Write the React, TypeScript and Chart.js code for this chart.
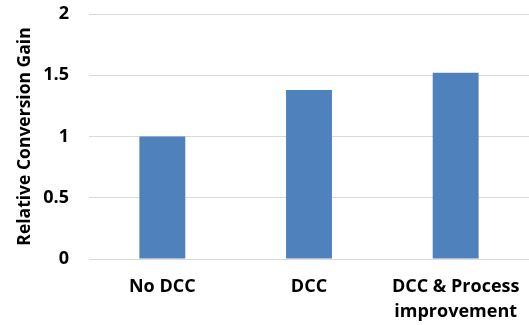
import React, { useEffect, useRef } from "react";
import { Chart, registerables } from "chart.js";

Chart.register(...registerables);

const categories: (string | string[])[] = ["No DCC", "DCC", ["DCC & Process", "improvement"]];
const gainValues: number[] = [1.0, 1.38, 1.52];
const yTicks: number[] = [0, 0.5, 1, 1.5, 2];
const yTitle = "Relative Conversion Gain";

const FONT = "'Open Sans', 'Noto Sans', sans-serif";

export default function App() {
  const ref = useRef<HTMLCanvasElement>(null);
  useEffect(() => {
    if (!ref.current) return;
    const chart = new Chart(ref.current, {
      type: "bar",
      data: {
        labels: categories,
        datasets: [
          {
            data: gainValues,
            backgroundColor: "#4f81bd",
            borderWidth: 0,
            barPercentage: 0.313,
            categoryPercentage: 1,
          },
        ],
      },
      options: {
        animation: false,
        responsive: false,
        maintainAspectRatio: false,
        layout: { padding: { top: 14, right: 0, left: 0, bottom: 0 } },
        plugins: { legend: { display: false }, tooltip: { enabled: false } },
        scales: {
          x: {
            grid: { display: false, drawTicks: false },
            border: { display: true, color: "#d9d9d9", width: 1 },
            ticks: {
              color: "#000",
              font: { family: FONT, size: 18, weight: "bold", lineHeight: 1.39 },
              padding: 15,
              maxRotation: 0,
              autoSkip: false,
            },
            afterFit: (s: any) => {
              s.height = 66;
              s.paddingLeft = 0;
              s.paddingRight = 0;
              s.paddingTop = 0;
              s.paddingBottom = 0;
            },
          },
          y: {
            min: yTicks[0],
            max: yTicks[yTicks.length - 1],
            afterBuildTicks: (s: any) => {
              s.ticks = yTicks.map((v) => ({ value: v }));
            },
            ticks: {
              color: "#000",
              font: { family: FONT, size: 18, weight: "bold" },
              padding: 20,
              callback: (v: any) => String(v),
            },
            grid: { color: "#d9d9d9", lineWidth: 1, drawTicks: false },
            border: { display: false },
            title: {
              display: true,
              text: yTitle,
              color: "#000",
              font: { family: FONT, size: 17.5, weight: "bold" },
              padding: { top: 15, bottom: 0 },
            },
            afterFit: (s: any) => {
              s.width = 89;
              s.paddingTop = 0;
              s.paddingBottom = 0;
              s.paddingLeft = 0;
              s.paddingRight = 0;
            },
          },
        },
      },
    });
    return () => chart.destroy();
  }, []);
  return (
    <div style={{ position: "fixed", left: 0, top: 0, width: 529, height: 325, background: "#fff" }}>
      <canvas ref={ref} width={529} height={325} style={{ width: 529, height: 325 }} />
    </div>
  );
}
